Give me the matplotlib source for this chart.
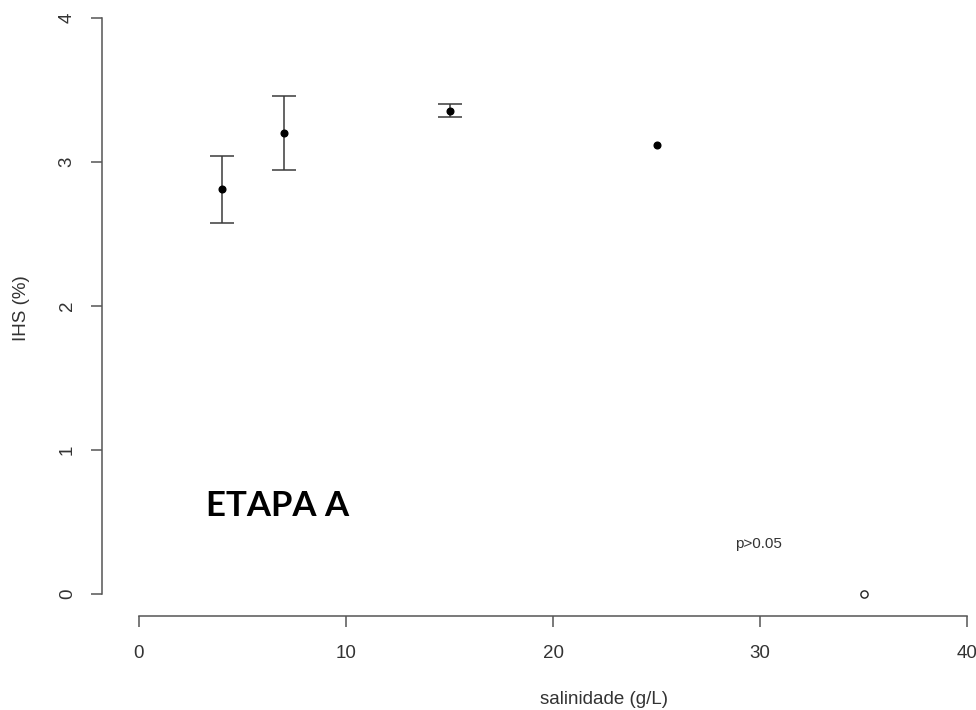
import numpy as np
import matplotlib.pyplot as plt

# salinity levels and IHS means / error bar limits
salinidade = [4, 7, 15]
ihs_mean = [2.81, 3.20, 3.355]
ihs_upper = [3.045, 3.46, 3.40]
ihs_lower = [2.575, 2.945, 3.31]
single_x = [25]
single_y = [3.115]
zero_x = [35]
zero_y = [0.0]
xticks = [0, 10, 20, 30, 40]
yticks = [0, 1, 2, 3, 4]

plt.rcParams['font.family'] = ['Liberation Sans', 'DejaVu Sans']

W, H = 976, 710
fig = plt.figure(figsize=(W / 100, H / 100), dpi=100)

# map pixels: x=0 -> 139px, 10 units = 207px ; y=0 -> 594px, 1 unit = 144px
sx, x0 = 20.7, 139
sy, y0 = 144.0, 594
xlim = (-1.79, 40.4)
ylim = (-0.153, 4.12)
left = (x0 + xlim[0] * sx) / W
right = (x0 + xlim[1] * sx) / W
bottom = (H - (y0 - ylim[0] * sy)) / H
top = (H - (y0 - ylim[1] * sy)) / H
ax = fig.add_axes([left, bottom, right - left, top - bottom])
ax.set_xlim(*xlim)
ax.set_ylim(*ylim)

gray = '#3a3a3a'
mean = np.array(ihs_mean)
yerr = [mean - np.array(ihs_lower), np.array(ihs_upper) - mean]
ax.errorbar(salinidade, mean, yerr=yerr, fmt='o', color='black', ms=4.8,
            ecolor=gray, elinewidth=1.1, capsize=8.5, capthick=1.1)
ax.plot(single_x, single_y, 'o', color='black', ms=4.8)
ax.plot(zero_x, zero_y, 'o', mfc='white', mec='#222222', ms=5.2, mew=1)

ax.text(29.95, 0.32, 'p>0.05', ha='center', va='baseline', fontsize=11,
        color='#333333')
ax.text(3.22, 0.54, 'ETAPA A', ha='left', va='baseline', fontsize=25,
        fontweight='bold', family=['Lato', 'DejaVu Sans'], color='black')

for s in ['top', 'right']:
    ax.spines[s].set_visible(False)
for s in ['left', 'bottom']:
    ax.spines[s].set_color('#555555')
    ax.spines[s].set_linewidth(1.1)
ax.spines['left'].set_bounds(0, 4)
ax.spines['bottom'].set_bounds(0, 40)

ax.set_xticks(xticks)
ax.set_yticks(yticks)
ax.tick_params(axis='both', length=8, width=1.1, color='#555555',
               labelcolor='#333333', labelsize=13.5)
ax.tick_params(axis='x', pad=12.5)
ax.tick_params(axis='y', pad=10.8)
for lab in ax.get_yticklabels():
    lab.set_rotation(90)
    lab.set_va('center')

ax_w = (right - left) * W
ax_h = (top - bottom) * H
ax.set_xlabel('salinidade (g/L)', fontsize=13.5, color='#333333')
ax.xaxis.set_label_coords((604 - left * W) / ax_w, -(700 - (H - bottom * H)) / ax_h)
ax.xaxis.label.set_va('center')
ax.set_ylabel('IHS (%)', fontsize=13.5, color='#333333')
ax.yaxis.set_label_coords((22 - left * W) / ax_w, 0.5)
ax.yaxis.label.set_va('center')

fig.savefig('out.png', dpi=100)
